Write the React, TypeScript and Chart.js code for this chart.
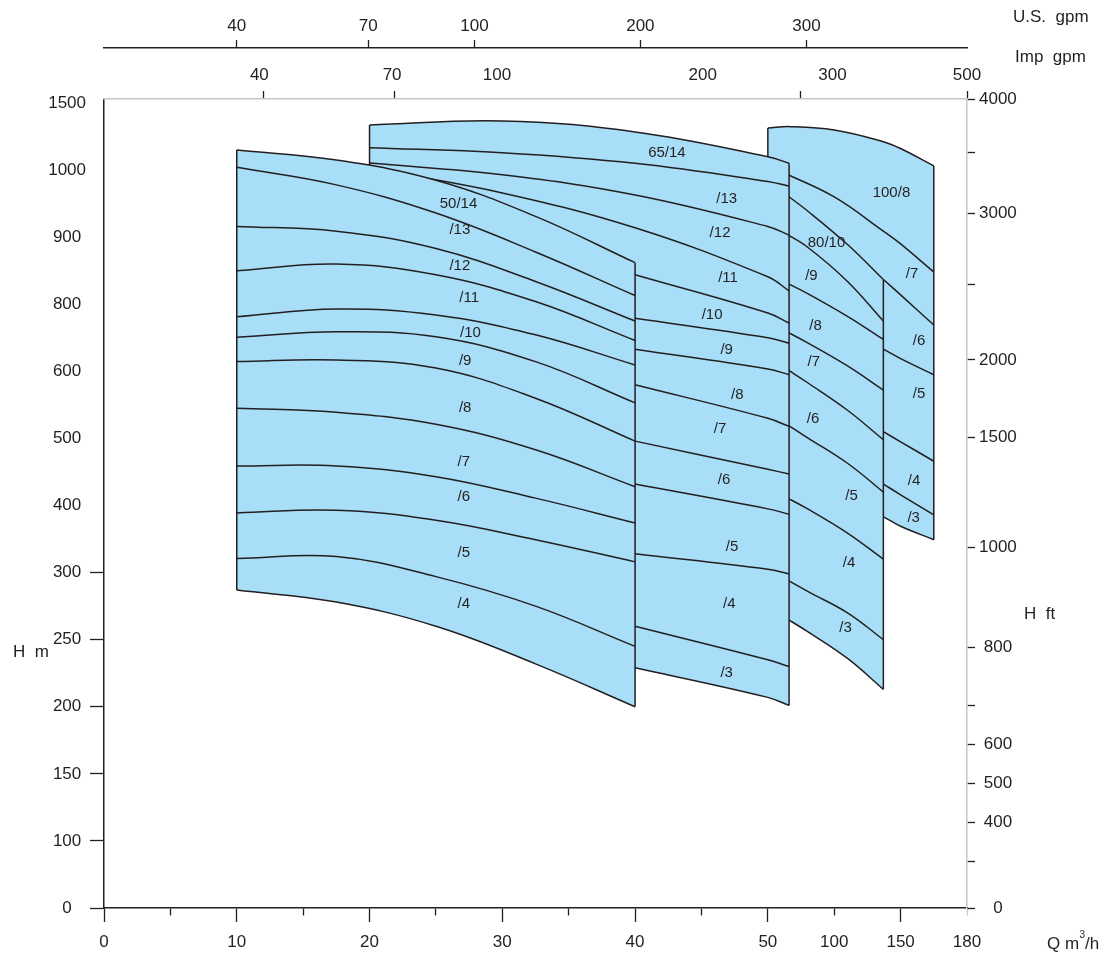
import React, { useEffect, useRef } from 'react';
import { Chart, registerables } from 'chart.js';

Chart.register(...registerables);

const FONT = '"Liberation Sans", Arial, Helvetica, sans-serif';
const INK = '#231f20';
const FRAME = '#c6c6c6';
const BAND_FILL = '#a8def7';
const CLEAR = 'rgba(0,0,0,0)';

// ---------- axes (non-uniform scales as printed) ----------
const Q_TICKS = [0, 10, 20, 30, 40, 50, 100, 150, 180];
const Q_TICK_POS = [0, 1, 2, 3, 4, 5, 5.5, 6, 6.5];
const H_TICKS = [0, 100, 150, 200, 250, 300, 400, 500, 600, 800, 900, 1000, 1500];
const H_TOP = 1530;
const H_MARKED_UP_TO = 300;

const US_GPM_LABELS = ['40', '70', '100', '200', '300'];
const US_GPM_AT_Q = [10.0, 19.9, 27.9, 40.4, 79.1];
const IMP_GPM_LABELS = ['40', '70', '100', '200', '300', '500'];
const IMP_GPM_LABEL_AT_Q = [11.7, 21.7, 29.6, 45.1, 98.7, 180];
const IMP_GPM_MARK_AT_Q = [12.0, 21.9, 74.6, 180];
const FT_LABELS = ['4000', '', '3000', '', '2000', '1500', '1000', '800', '', '600', '500', '400', '', '0'];
const FT_AT_H = [1530, 1128, 936, 830, 634, 501, 337, 244, 201, 172, 143, 114, 69, 0];

// ---------- group 50/.. (Q m3/h, H m) ----------
const G1_Q = [10, 17.5, 25, 32.5, 40];
const G1_TOP = [1150, 1075, 985, 931, 862];
const G1_BOTTOM = [287, 278, 260, 232, 200];
const G1_STAGE_LINES = [
  [1021, 978, 936, 878, 813],
  [916, 909, 883, 834, 750],
  [850, 860, 844, 804, 692],
  [763, 786, 768, 709, 619],
  [702, 718, 703, 629, 553],
  [629, 634, 610, 560, 496],
  [545, 539, 521, 483, 428],
  [459, 459, 443, 411, 374],
  [389, 393, 378, 349, 316],
  [321, 324, 297, 275, 245],
];

// ---------- group 65/.. ----------
const G2_Q = [20, 30, 40, 50, 66];
const G2_TOP = [1336, 1366, 1284, 1100, 1051];
const G2_BOTTOM = [287, 250, 229, 207, 201];
const G2_UPPER_LINES = [
  [1167, 1130, 1051, 983, 976],
  [1053, 993, 963, 916, 903],
  [1016, 966, 914, 841, 820],
];
const G2_LOWER_Q = [40, 50, 66];
const G2_LOWER_LINES = [
  [844, 774, 744],
  [758, 700, 684],
  [666, 607, 595],
  [580, 530, 518],
  [496, 454, 447],
  [432, 395, 387],
  [328, 305, 299],
  [260, 235, 230],
];

// ---------- group 80/.. ----------
const G3_Q = [62, 80, 110, 137];
const G3_TOP = [966, 939, 889, 837];
const G3_BOTTOM = [267, 256, 236, 213];
const G3_STAGE_LINES = [
  [907, 885, 834, 750],
  [834, 816, 764, 695],
  [723, 685, 616, 572],
  [613, 583, 542, 498],
  [524, 501, 463, 420],
  [414, 395, 359, 320],
  [296, 286, 270, 250],
];

// ---------- group 100/.. ----------
const G4_Q = [50, 67, 100, 137, 150, 165];
const G4_TOP = [1314, 1324, 1299, 1212, 1161, 1031];
const G4_BOTTOM = [460, 445, 416, 383, 369, 349];
const G4_FIRST_Q = [62, 100, 137, 150, 165];
const G4_FIRST_LINE = [996, 960, 909, 890, 848];
const G4_RIGHT_Q = [137, 150, 165];
const G4_RIGHT_LINES = [
  [837, 814, 738],
  [666, 638, 595],
  [510, 495, 466],
  [432, 416, 386],
];

// ---------- band labels ----------
const BAND_LABELS = [
  '50/14', '/13', '/12', '/11', '/10', '/9', '/8', '/7', '/6', '/5', '/4',
  '65/14', '/13', '/12', '/11', '/10', '/9', '/8', '/7', '/6', '/5', '/4', '/3',
  '80/10', '/9', '/8', '/7', '/6', '/5', '/4', '/3',
  '100/8', '/7', '/6', '/5', '/4', '/3',
];
const BAND_Q = [
  26.7, 26.8, 26.8, 27.5, 27.6, 27.2, 27.2, 27.1, 27.1, 27.1, 27.1,
  42.4, 46.9, 46.4, 47.0, 45.8, 46.9, 47.7, 46.4, 46.7, 47.3, 47.1, 46.9,
  94.2, 82.8, 85.9, 84.6, 84.1, 113, 111.2, 108.5,
  143.1, 155.2, 158.3, 158.3, 156.1, 155.9,
];
const BAND_H = [
  950, 911, 857, 810, 714, 631, 546, 465, 413, 329, 277,
  1125, 957, 907, 839, 768, 664, 565, 514, 438, 338, 277, 225,
  892, 843, 735, 627, 529, 414, 315, 259,
  966, 845, 691, 566, 437, 381,
];

// ---------- scale mapping helpers ----------
function interp(v: number, xs: number[], ys: number[]) {
  let i = 1;
  while (i < xs.length - 1 && v > xs[i]) i++;
  return ys[i - 1] + ((v - xs[i - 1]) * (ys[i] - ys[i - 1])) / (xs[i] - xs[i - 1]);
}
const H_POS = H_TICKS.map((_, i) => i);
const qx = (q: number) => interp(q, Q_TICKS, Q_TICK_POS);
const hy = (h: number) => interp(h, H_TICKS, H_POS);
const pts = (qs: number[], hs: number[]) => qs.map((q, i) => ({ x: qx(q), y: hy(hs[i]) }));

// ---------- tick lists ----------
type Tk = { value: number; lbl: string; mark: boolean; minor?: boolean; soft?: boolean };
const X_TICK_LIST: Tk[] = [];
for (let k = 0; k <= 13; k++) {
  const p = k / 2;
  const j = Q_TICK_POS.indexOf(p);
  X_TICK_LIST.push({ value: p, lbl: j >= 0 ? String(Q_TICKS[j]) : '', mark: true, minor: k % 2 === 1, soft: k === 13 });
}
const Y_TICK_LIST: Tk[] = H_TICKS.map((h) => ({ value: hy(h), lbl: String(h), mark: h <= H_MARKED_UP_TO }));
const FT_TICK_LIST: Tk[] = FT_LABELS.map((l, i) => ({ value: hy(FT_AT_H[i]), lbl: l, mark: true }));
const US_TICK_LIST: Tk[] = US_GPM_LABELS.map((l, i) => ({ value: qx(US_GPM_AT_Q[i]), lbl: l, mark: true }));
const IMP_TICK_LIST: Tk[] = [
  ...IMP_GPM_LABELS.map((l, i) => ({ value: qx(IMP_GPM_LABEL_AT_Q[i]), lbl: l, mark: false })),
  ...IMP_GPM_MARK_AT_Q.map((q) => ({ value: qx(q), lbl: '', mark: true })),
].sort((a, b) => a.value - b.value);

// ---------- datasets ----------
function curve(data: any[], order: number, extra: any = {}) {
  return {
    type: 'line',
    data,
    order,
    borderColor: INK,
    borderWidth: 1.5,
    pointRadius: 0,
    pointHoverRadius: 0,
    fill: false,
    cubicInterpolationMode: 'default',
    tension: 0.4,
    ...extra,
  };
}

function buildDatasets() {
  const ds: any[] = [];
  const group = (
    base: number,
    qs: number[],
    top: number[],
    bottom: number[],
    lines: { q: number[]; h: number[] }[],
  ) => {
    const topIdx = ds.length;
    const botIdx = topIdx + 1;
    ds.push(curve(pts(qs, top), base, { fill: botIdx, backgroundColor: BAND_FILL }));
    ds.push(curve(pts(qs, bottom), base - 1));
    lines.forEach((l) => ds.push(curve(pts(l.q, l.h), base - 1)));
    const last = qs.length - 1;
    [
      [qs[0], top[0], bottom[0]],
      [qs[last], top[last], bottom[last]],
    ].forEach(([q, h1, h2]) => ds.push(curve(pts([q, q], [h1, h2]), base - 1, { tension: 0 })));
  };
  // bottom-most first (higher order = drawn earlier)
  group(80, G4_Q, G4_TOP, G4_BOTTOM, [
    { q: G4_FIRST_Q, h: G4_FIRST_LINE },
    ...G4_RIGHT_LINES.map((h) => ({ q: G4_RIGHT_Q, h })),
  ]);
  group(60, G3_Q, G3_TOP, G3_BOTTOM, G3_STAGE_LINES.map((h) => ({ q: G3_Q, h })));
  group(40, G2_Q, G2_TOP, G2_BOTTOM, [
    ...G2_UPPER_LINES.map((h) => ({ q: G2_Q, h })),
    ...G2_LOWER_LINES.map((h) => ({ q: G2_LOWER_Q, h })),
  ]);
  group(20, G1_Q, G1_TOP, G1_BOTTOM, G1_STAGE_LINES.map((h) => ({ q: G1_Q, h })));
  return ds;
}

// ---------- scales ----------
const tickFont = { family: FONT, size: 17 };
const labelCb = (_v: any, i: number, arr: any[]) => (arr[i] ? arr[i].lbl : '');
const setTicks = (list: Tk[]) => (s: any) => {
  s.ticks = list.map((t) => ({ ...t }));
};

const scales: any = {
  x: {
    type: 'linear',
    position: 'bottom',
    min: 0,
    max: 6.5,
    afterBuildTicks: setTicks(X_TICK_LIST),
    afterFit: (s: any) => {
      s.height = 57;
    },
    border: { color: INK, width: 1.5 },
    grid: {
      drawOnChartArea: false,
      tickLength: 14,
      tickWidth: 1.3,
      tickColor: (c: any) => (c.tick && c.tick.soft ? FRAME : INK),
      tickBorderDash: (c: any) => (c.tick && c.tick.minor ? [7, 40] : []),
    },
    ticks: { autoSkip: false, maxRotation: 0, minRotation: 0, padding: 10, color: INK, font: tickFont, callback: labelCb },
  },
  y: {
    type: 'linear',
    position: 'left',
    min: 0,
    max: hy(H_TOP),
    afterBuildTicks: setTicks(Y_TICK_LIST),
    afterFit: (s: any) => {
      s.width = 104;
    },
    border: { color: INK, width: 1.5 },
    grid: {
      drawOnChartArea: false,
      tickLength: 14,
      tickWidth: 1.3,
      tickColor: (c: any) => (c.tick && c.tick.mark ? INK : CLEAR),
    },
    ticks: { autoSkip: false, crossAlign: 'center', padding: 4, color: INK, font: tickFont, callback: labelCb },
  },
  y2: {
    type: 'linear',
    position: 'right',
    min: 0,
    max: hy(H_TOP),
    afterBuildTicks: setTicks(FT_TICK_LIST),
    afterFit: (s: any) => {
      s.width = 137;
    },
    border: { color: FRAME, width: 1.5 },
    grid: { drawOnChartArea: false, tickLength: 8, tickWidth: 1.3, tickColor: INK },
    ticks: { autoSkip: false, crossAlign: 'center', padding: 4, color: INK, font: tickFont, callback: labelCb },
  },
  x2: {
    type: 'linear',
    position: 'top',
    weight: 1,
    min: 0,
    max: 6.5,
    afterBuildTicks: setTicks(IMP_TICK_LIST),
    afterFit: (s: any) => {
      s.height = 51;
    },
    border: { color: FRAME, width: 1.5 },
    grid: {
      drawOnChartArea: false,
      tickLength: 8,
      tickWidth: 1.3,
      tickColor: (c: any) => (c.tick && c.tick.mark ? INK : CLEAR),
    },
    ticks: { autoSkip: false, maxRotation: 0, minRotation: 0, padding: 5, color: INK, font: tickFont, callback: labelCb },
  },
  x3: {
    type: 'linear',
    position: 'top',
    weight: 2,
    min: 0,
    max: 6.5,
    afterBuildTicks: setTicks(US_TICK_LIST),
    afterFit: (s: any) => {
      s.height = 48;
    },
    border: { color: INK, width: 1.5 },
    grid: { drawOnChartArea: false, tickLength: 8, tickWidth: 1.3, tickColor: INK },
    ticks: { autoSkip: false, maxRotation: 0, minRotation: 0, padding: 3, color: INK, font: tickFont, callback: labelCb },
  },
};

// ---------- text plugin (band labels + axis names) ----------
const textPlugin = {
  id: 'pumpTexts',
  afterDraw(chart: any) {
    const { ctx, chartArea: a, scales: sc } = chart;
    ctx.save();
    ctx.fillStyle = INK;
    ctx.textBaseline = 'middle';
    ctx.textAlign = 'center';
    ctx.font = `15px ${FONT}`;
    BAND_LABELS.forEach((t, i) => {
      ctx.fillText(t, sc.x.getPixelForValue(qx(BAND_Q[i])), sc.y.getPixelForValue(hy(BAND_H[i])));
    });
    ctx.font = `17px ${FONT}`;
    ctx.textAlign = 'left';
    ctx.fillText('U.S.  gpm', a.right + 46, 17);
    ctx.fillText('Imp  gpm', a.right + 48, 57);
    ctx.fillText('H  ft', a.right + 57, 614);
    ctx.fillText('H  m', 13, 652);
    const x0 = a.right + 80;
    const y0 = a.bottom + 36;
    ctx.fillText('Q m', x0, y0);
    const w = ctx.measureText('Q m').width;
    ctx.font = `10px ${FONT}`;
    ctx.fillText('3', x0 + w + 0.5, y0 - 9);
    ctx.font = `17px ${FONT}`;
    ctx.fillText('/h', x0 + w + 6, y0);
    ctx.restore();
  },
};

export default function App() {
  const ref = useRef<HTMLCanvasElement>(null);
  useEffect(() => {
    document.body.style.margin = '0';
    const chart = new Chart(ref.current as HTMLCanvasElement, {
      type: 'line',
      data: { datasets: buildDatasets() as any },
      options: {
        responsive: false,
        animation: false,
        events: [],
        layout: { padding: 0 },
        plugins: {
          legend: { display: false },
          tooltip: { enabled: false },
        },
        scales,
      } as any,
      plugins: [textPlugin],
    });
    return () => chart.destroy();
  }, []);
  return (
    <div style={{ width: 1104, height: 965 }}>
      <canvas ref={ref} width={1104} height={965} style={{ display: 'block' }} />
    </div>
  );
}
